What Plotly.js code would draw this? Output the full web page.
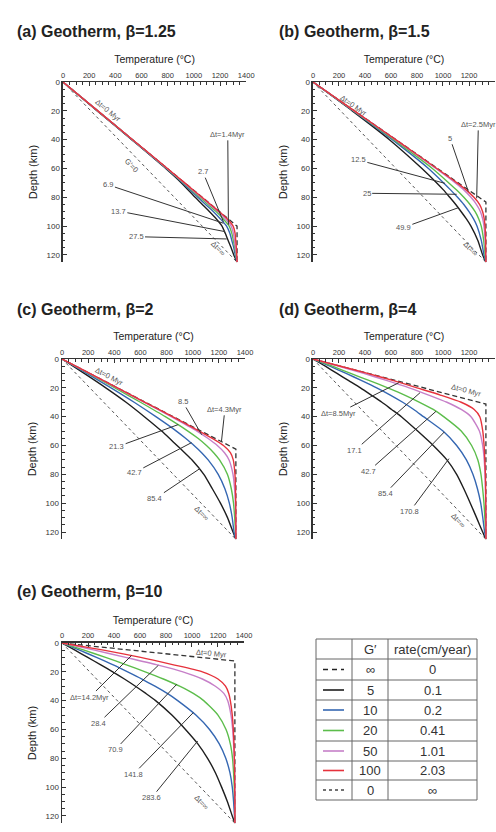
<!DOCTYPE html>
<html><head><meta charset="utf-8">
<script src="https://cdn.plot.ly/plotly-3.0.1.min.js"></script>
<style>html,body{margin:0;padding:0;background:#fff}#chart{width:496px;height:832px}</style>
</head><body><div id="chart"></div>
<script>
// ---------- data ----------
const steadyT = [0, 1330];
const steadyD = [0, 125];
const initT = [0, 1330, 1330];
const initDA = [0, 100, 125];
const initDB = [0, 83.3, 125];
const initDC = [0, 62.5, 125];
const initDD = [0, 31.25, 125];
const initDE = [0, 12.5, 125];

const depthA = [0,20,40,60,70,80,85,90,95,100,105,110,115,120,125];
const aBlack = [0,262,525,785,905,1010,1065,1120,1172,1215,1240,1262,1285,1305,1330];
const aBlue  = [0,264,528,790,915,1030,1090,1150,1203,1250,1275,1290,1305,1316,1330];
const aGreen = [0,265,530,794,922,1045,1108,1172,1225,1270,1290,1302,1313,1322,1330];
const aMag   = [0,266,531,796,926,1055,1120,1186,1242,1285,1302,1310,1318,1325,1330];
const aRed   = [0,266,532,798,930,1062,1128,1195,1256,1300,1315,1320,1325,1328,1330];

const depthB = [0,20,40,60,70,75,80,85,90,95,100,110,120,125];
const bBlack = [0,302,588,838,952,1005,1052,1098,1140,1180,1215,1268,1305,1330];
const bBlue  = [0,310,610,888,1005,1060,1112,1160,1200,1235,1262,1295,1315,1330];
const bGreen = [0,314,622,918,1045,1105,1160,1208,1247,1275,1294,1313,1324,1330];
const bMag   = [0,317,633,945,1095,1162,1215,1258,1288,1305,1315,1324,1328,1330];
const bRed   = [0,318,636,953,1108,1180,1238,1282,1305,1317,1323,1328,1329,1330];

const depthC = [0,10,20,30,40,50,55,60,65,70,80,90,100,110,120,125];
const cBlack = [0,170,335,490,630,762,822,880,938,995,1085,1150,1212,1266,1308,1330];
const cBlue  = [0,190,375,552,718,875,945,1010,1068,1118,1195,1246,1280,1302,1316,1330];
const cGreen = [0,205,405,600,790,963,1040,1105,1160,1205,1265,1295,1312,1321,1327,1330];
const cMag   = [0,211,421,630,835,1032,1115,1188,1243,1278,1308,1320,1326,1328,1330,1330];
const cRed   = [0,212,424,635,845,1050,1150,1235,1288,1310,1323,1327,1329,1330,1330,1330];

const depthD = [0,5,10,15,20,25,30,35,40,50,60,70,80,90,100,110,120,125];
const dBlack = [0,95,185,275,365,448,530,605,680,805,925,1030,1105,1160,1210,1258,1305,1330];
const dBlue  = [0,130,255,375,490,595,690,775,850,1000,1105,1180,1230,1265,1290,1306,1320,1330];
const dGreen = [0,150,290,435,575,705,820,925,1005,1140,1220,1268,1292,1305,1315,1322,1328,1330];
const dMag   = [0,200,390,570,740,890,1030,1140,1215,1280,1305,1317,1323,1326,1328,1329,1330,1330];
const dRed   = [0,212,420,620,800,980,1140,1240,1283,1306,1316,1322,1326,1328,1329,1330,1330,1330];

const depthE = [0,5,10,15,20,25,30,35,40,50,60,70,80,90,100,110,120,125];
const eBlack = [0,100,198,295,390,480,565,645,720,845,950,1045,1120,1180,1228,1272,1310,1330];
const eBlue  = [0,135,265,390,505,615,715,810,890,1030,1135,1210,1260,1292,1310,1320,1327,1330];
const eGreen = [0,170,335,490,640,780,905,1010,1090,1200,1262,1295,1312,1320,1325,1328,1330,1330];
const eMag   = [0,250,490,725,930,1080,1180,1245,1275,1300,1313,1320,1325,1328,1329,1330,1330,1330];
const eRed   = [0,320,605,850,1080,1200,1258,1283,1295,1310,1318,1323,1326,1328,1329,1330,1330,1330];

const titlesText = ['(a) Geotherm, β=1.25','(b) Geotherm, β=1.5','(c) Geotherm, β=2','(d) Geotherm, β=4','(e) Geotherm, β=10'];
const dtA = ['Δt=1.4Myr','2.7','6.9','13.7','27.5'];
const dtB = ['Δt=2.5Myr','5','12.5','25','49.9'];
const dtC = ['Δt=4.3Myr','8.5','21.3','42.7','85.4'];
const dtD = ['Δt=8.5Myr','17.1','42.7','85.4','170.8'];
const dtE = ['Δt=14.2Myr','28.4','70.9','141.8','283.6'];

const gValues = ['∞','5','10','20','50','100','0'];
const rateValues = ['0','0.1','0.2','0.41','1.01','2.03','∞'];

// ---------- styles / layout ----------
const FONT = 'Liberation Sans, Arial, Helvetica, sans-serif';
const colBlack = '#1e1e1e', colBlue = '#3567b2', colGreen = '#5cbd4b', colMag = '#c67fc8', colRed = '#e6323c';
const curveColors = [colBlack, colBlue, colGreen, colMag, colRed];

const panels = [
  {depth: depthA, temps: [aBlack,aBlue,aGreen,aMag,aRed], initD: initDA, x:[0.1270,0.4964], y:[0.6849,0.9014], tx:15, ty:32},
  {depth: depthB, temps: [bBlack,bBlue,bGreen,bMag,bRed], initD: initDB, x:[0.6310,0.9980], y:[0.6849,0.9014], tx:277, ty:32},
  {depth: depthC, temps: [cBlack,cBlue,cGreen,cMag,cRed], initD: initDC, x:[0.1250,0.4940], y:[0.3519,0.5685], tx:15, ty:309},
  {depth: depthD, temps: [dBlack,dBlue,dGreen,dMag,dRed], initD: initDD, x:[0.6310,0.9980], y:[0.3519,0.5685], tx:277, ty:309},
  {depth: depthE, temps: [eBlack,eBlue,eGreen,eMag,eRed], initD: initDE, x:[0.1250,0.4919], y:[0.0106,0.2272], tx:15, ty:591}
];

// label placement: [headT, headD, textT, textD]
const labelPosAll = [
  [ [1264,99,1259,36.3], [1226,96.9,1068,62.2], [1226,98,347,71.4], [1238,103.8,423,89.5], [1251,108.9,558,107.3] ],
  [ [1259,80.7,1272,29.4], [1195,76,1054,39], [1015,70.3,349,54.1], [1105,77.9,413,77.2], [1118,87.2,695,101] ],
  [ [1220,57,1246,34.9], [1068,52.5,922,29.4], [889,45.5,418,61], [991,58,553,78.8], [1055,76,711,96.9] ],
  [ [661,16.4,195,37.5], [823,23.4,323,63.3], [946,36.3,426,77.9], [1010,50.6,554,93.4], [1046,69.1,746,105.7] ],
  [ [536,8.6,215,37.5], [741,15.5,279,55.7], [882,28.7,408,74.2], [1010,48.3,549,91.1], [1044,68,690,107.3] ]
];
const dtLabels = [dtA, dtB, dtC, dtD, dtE];
// rotated label positions: [T, D, angle]
const zeroLabel = [[345,19.5,39.6],[310,16.5,34.7],[360,12,27.4],[1182,21.8,14.6],[1151,7.2,5.9]];
const infLabel = [[1187,115.4,46],[1208,115.8,46],[1068,107.3,46],[1118,111.9,46],[1074,110.7,46]];

const traces = [];
const layout = {
  width: 496, height: 832, margin: {l:0,r:0,t:0,b:0},
  paper_bgcolor: '#fff', plot_bgcolor: '#fff', showlegend: false,
  font: {family: FONT, color: '#333'},
  annotations: [], shapes: []
};

panels.forEach((p, i) => {
  const n = i === 0 ? '' : String(i + 1);
  const xa = 'x' + n, ya = 'y' + n;
  traces.push({x: steadyT, y: steadyD, xaxis: xa, yaxis: ya, mode: 'lines',
    line: {color: '#555', width: 1, dash: 'dot'}, hoverinfo: 'skip'});
  traces.push({x: initT, y: p.initD, xaxis: xa, yaxis: ya, mode: 'lines',
    line: {color: '#333', width: 1.3, dash: '5px,3px'}, hoverinfo: 'skip'});
  p.temps.forEach((t, k) => {
    traces.push({x: t, y: p.depth, xaxis: xa, yaxis: ya, mode: 'lines',
      line: {color: curveColors[k], width: 1.4, shape: 'spline', smoothing: 0.6}, hoverinfo: 'skip'});
  });
  layout['xaxis' + n] = {
    domain: p.x, anchor: ya, side: 'top', range: [0, 1400], autorange: false,
    dtick: 200, tick0: 0, ticks: 'inside', ticklen: 4, tickwidth: 1, tickcolor: '#333',
    minor: {dtick: 50, ticks: 'inside', ticklen: 2.5, tickcolor: '#333', showgrid: false},
    showline: true, linecolor: '#333', linewidth: 1.5, showgrid: false, zeroline: false,
    tickfont: {size: 7.5, color: '#333', family: FONT},
    title: {text: 'Temperature (°C)', font: {size: 10.5, color: '#222', family: FONT}, standoff: 5}
  };
  layout['yaxis' + n] = {
    domain: p.y, anchor: xa, range: [125, 0], autorange: false,
    dtick: 20, tick0: 0, ticks: 'inside', ticklen: 4, tickwidth: 1, tickcolor: '#333',
    minor: {dtick: 5, ticks: 'inside', ticklen: 2.5, tickcolor: '#333', showgrid: false},
    showline: true, linecolor: '#333', linewidth: 1.5, showgrid: false, zeroline: false,
    tickfont: {size: 8, color: '#333', family: FONT},
    title: {text: 'Depth (km)', font: {size: 11, color: '#222', family: FONT}, standoff: 6}
  };
  layout.annotations.push({xref: 'paper', yref: 'paper', x: p.tx / 496, y: 1 - p.ty / 832,
    xanchor: 'left', yanchor: 'middle', showarrow: false, text: '<b>' + titlesText[i] + '</b>',
    font: {size: 16, color: '#222', family: FONT}});
  dtLabels[i].forEach((txt, k) => {
    const L = labelPosAll[i][k];
    layout.annotations.push({xref: xa, yref: ya, axref: xa, ayref: ya,
      x: L[0], y: L[1], ax: L[2], ay: L[3], text: txt, showarrow: true, arrowhead: 0,
      arrowwidth: 1, arrowcolor: '#333', standoff: 0, startstandoff: 0,
      font: {size: 7.5, color: '#555', family: FONT}});
  });
  const z = zeroLabel[i];
  layout.annotations.push({xref: xa, yref: ya, x: z[0], y: z[1], text: 'Δt=0 Myr', textangle: z[2],
    xanchor: 'center', yanchor: 'middle', showarrow: false, font: {size: 7.5, color: '#555', family: FONT}});
  const f = infLabel[i];
  layout.annotations.push({xref: xa, yref: ya, x: f[0], y: f[1], text: 'Δt=∞', textangle: f[2],
    xanchor: 'center', yanchor: 'middle', showarrow: false, font: {size: 7.5, color: '#555', family: FONT}});
  if (i === 0) {
    layout.annotations.push({xref: xa, yref: ya, x: 525, y: 57.6, text: 'G′=0', textangle: 46,
      xanchor: 'center', yanchor: 'middle', showarrow: false, font: {size: 7.5, color: '#555', family: FONT}});
  }
});

// ---------- legend table ----------
const px = v => v / 496, py = v => 1 - v / 832;
const colX = [316, 352, 388, 477];
const rowY = [639, 659, 680, 700, 720, 741, 761, 780, 800];
const gridCol = '#666';
rowY.forEach(yv => layout.shapes.push({type: 'line', xref: 'paper', yref: 'paper',
  x0: px(colX[0]), x1: px(colX[3]), y0: py(yv), y1: py(yv), line: {color: gridCol, width: 1}}));
colX.forEach(xv => layout.shapes.push({type: 'line', xref: 'paper', yref: 'paper',
  x0: px(xv), x1: px(xv), y0: py(rowY[0]), y1: py(rowY[rowY.length - 1]), line: {color: gridCol, width: 1}}));
const tfont = {size: 13, color: '#333', family: FONT};
function cellText(xc, yc, txt) {
  layout.annotations.push({xref: 'paper', yref: 'paper', x: px(xc), y: py(yc), text: txt,
    xanchor: 'center', yanchor: 'middle', showarrow: false, font: tfont});
}
cellText(370, 649.5, 'G′');
cellText(432.5, 649.5, 'rate(cm/year)');
const legStyles = [
  {color: '#222', dash: '5px,4px'}, {color: colBlack, dash: 'solid'}, {color: colBlue, dash: 'solid'},
  {color: colGreen, dash: 'solid'}, {color: colMag, dash: 'solid'}, {color: colRed, dash: 'solid'},
  {color: '#444', dash: 'dot'}
];
gValues.forEach((g, r) => {
  const yc = (rowY[r + 1] + rowY[r + 2]) / 2;
  layout.shapes.push({type: 'line', xref: 'paper', yref: 'paper', x0: px(323), x1: px(344),
    y0: py(yc), y1: py(yc), line: {color: legStyles[r].color, width: 1.6, dash: legStyles[r].dash}});
  cellText(370, yc, g);
  cellText(432.5, yc, rateValues[r]);
});

Plotly.newPlot('chart', traces, layout, {staticPlot: true, displayModeBar: false});
</script>
</body></html>
